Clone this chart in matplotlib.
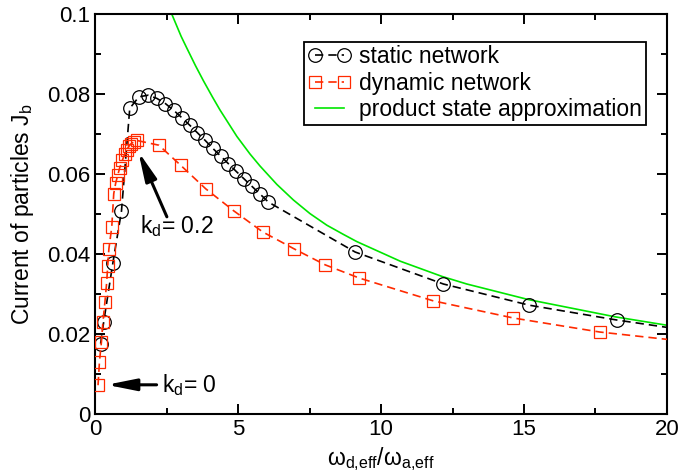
import matplotlib
matplotlib.use("Agg")
import matplotlib.pyplot as plt

# static network (circles)
static_x = [0.18, 0.29, 0.61, 0.91, 1.20, 1.52, 1.84, 2.15, 2.45, 2.74, 3.02, 3.30, 3.57, 3.84,
            4.11, 4.38, 4.65, 4.92, 5.20, 5.48, 5.76, 6.05, 9.09, 12.18, 15.19, 18.25, 21.3]
static_y = [0.0176, 0.0231, 0.0378, 0.0507, 0.0764, 0.0793, 0.0797, 0.0789, 0.0776, 0.0759,
            0.0741, 0.0722, 0.0703, 0.0684, 0.0664, 0.0645, 0.0626, 0.0607, 0.0588, 0.0569,
            0.0550, 0.0530, 0.0405, 0.0325, 0.0272, 0.0235, 0.0203]

# dynamic network (squares)
dyn_x = [0.09, 0.14, 0.21, 0.26, 0.33, 0.39, 0.43, 0.47, 0.57, 0.64, 0.71, 0.78, 0.85, 0.94,
         1.02, 1.09, 1.17, 1.25, 1.34, 1.44, 2.22, 2.98, 3.86, 4.84, 5.86, 6.95, 8.04, 9.23,
         11.82, 14.63, 17.65, 20.6]
dyn_y = [0.0072, 0.0131, 0.0181, 0.0229, 0.0279, 0.0327, 0.0371, 0.0413, 0.0467, 0.0551,
         0.0578, 0.0597, 0.0616, 0.0634, 0.0649, 0.0661, 0.0669, 0.0676, 0.0680, 0.0684,
         0.0672, 0.0622, 0.0563, 0.0508, 0.0455, 0.0413, 0.0373, 0.0340, 0.0283, 0.0240,
         0.0205, 0.0182]

# product state approximation (green)
psa_x = [2.67, 3.00, 3.19, 3.50, 3.78, 4.10, 4.36, 4.95, 5.41, 5.76, 6.35, 6.93, 7.51, 8.10,
         8.68, 9.15, 10.67, 12.13, 13.0, 15.16, 18.19, 20.0]
psa_y = [0.1000, 0.0944, 0.0916, 0.0871, 0.0833, 0.0792, 0.0760, 0.0694, 0.0650, 0.0620,
         0.0574, 0.0535, 0.0501, 0.0472, 0.0449, 0.0431, 0.0382, 0.0344, 0.0325, 0.0286,
         0.0243, 0.0222]

plt.rcParams["font.family"] = ["Liberation Sans", "DejaVu Sans"]
plt.rcParams["mathtext.default"] = "regular"

fig = plt.figure(figsize=(6.79, 4.75), dpi=100)
ax = fig.add_axes([0.1406, 0.1284, 0.8414, 0.8421])

red = "#ff2a00"
green = "#00e600"

ax.plot(psa_x, psa_y, color=green, lw=1.2, label="product state approximation", zorder=2)
ax.plot(static_x, static_y, color="k", lw=1.2, dashes=(5, 3), marker="o", ms=9.8,
        mfc="none", mec="k", mew=0.9, label="static network", zorder=3)
ax.plot(dyn_x, dyn_y, color=red, lw=1.2, dashes=(5, 3), marker="s", ms=8.7,
        mfc="none", mec=red, mew=0.9, label="dynamic network", zorder=3)

ax.set_xlim(0, 20)
ax.set_ylim(0, 0.1)
ax.set_xticks([0, 5, 10, 15, 20])
ax.set_xticks([2.5, 7.5, 12.5, 17.5], minor=True)
ax.set_yticks([0, 0.02, 0.04, 0.06, 0.08, 0.1])
ax.set_yticklabels(["0", "0.02", "0.04", "0.06", "0.08", "0.1"])
ax.set_yticks([0.01, 0.03, 0.05, 0.07, 0.09], minor=True)
ax.set_xticklabels(["0", "5", "10", "15", "20"])
ax.tick_params(which="both", direction="in", top=True, right=True, width=1.4, labelsize=16)
ax.tick_params(which="major", length=7)
ax.tick_params(which="minor", length=4)
for s in ax.spines.values():
    s.set_linewidth(1.5)

ax.set_xlabel("ω$_{d{,}eff}$/ω$_{a{,}eff}$", fontsize=16.5, labelpad=4)
ax.set_ylabel("Current of particles J$_b$", fontsize=16.5, labelpad=8)

arrow = dict(arrowstyle="-|>,head_length=1.1,head_width=0.22", color="k", lw=2.2,
             mutation_scale=16, shrinkA=0, shrinkB=0)
ax.annotate("", xy=(1.50, 0.0656), xytext=(2.50, 0.0493), arrowprops=arrow)
ax.text(1.56, 0.0452, "k$_d$= 0.2", fontsize=16.5, va="baseline")
ax.annotate("", xy=(0.39, 0.0073), xytext=(2.14, 0.0073), arrowprops=arrow)
ax.text(2.33, 0.0073, "k$_d$= 0", fontsize=16.5, va="center")

handles, labels = ax.get_legend_handles_labels()
order = [1, 2, 0]
leg = ax.legend([handles[i] for i in order], [labels[i] for i in order],
                loc="upper right", bbox_to_anchor=(0.963, 0.93), fontsize=16.5,
                numpoints=2, fancybox=False, framealpha=1, edgecolor="k",
                borderaxespad=0, borderpad=0.15, handlelength=1.9, handletextpad=0.35,
                labelspacing=0.15)
leg.get_frame().set_linewidth(1.3)

fig.savefig("out.png", dpi=100)
